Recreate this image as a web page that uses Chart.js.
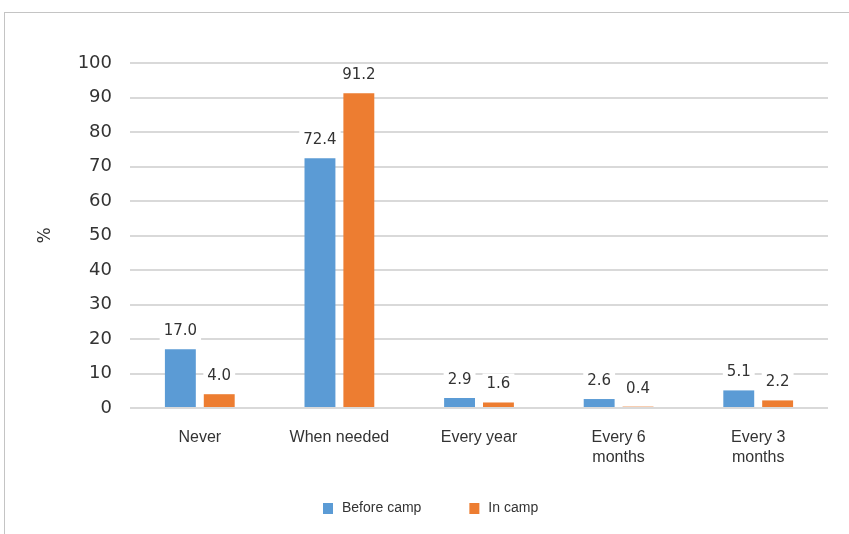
<!DOCTYPE html>
<html lang="en">
<head>
    <meta charset="UTF-8">
    <title>Check-up frequency</title>
    <script src="https://cdn.jsdelivr.net/npm/chart.js"></script>
    <style>
        body {
            margin: 0;
            background: #fff;
            overflow: hidden;
        }
        #frame {
            position: absolute;
            left: 4px;
            top: 12px;
            width: 845px;
            height: 522px;
            border-left: 1px solid #c4c4c4;
            border-top: 1px solid #c4c4c4;
        }
    </style>
</head>
<body>

    <div id="frame">
        <canvas id="barChart" width="844" height="521"></canvas>
    </div>

    <script>
        // Données
        const categories = ['Never', 'When needed', 'Every year', ['Every 6', 'months'], ['Every 3', 'months']];
        const beforeCamp = [17.0, 72.4, 2.9, 2.6, 5.1];
        const inCamp = [4.0, 91.2, 1.6, 0.4, 2.2];
        const seriesNames = ['Before camp', 'In camp'];
        const seriesColors = ['#5B9BD5', '#ED7D31'];
        const yTicks = [0, 10, 20, 30, 40, 50, 60, 70, 80, 90, 100];

        // étiquettes de valeur avec fond blanc
        const valueLabels = {
            id: 'valueLabels',
            afterDatasetsDraw(chart) {
                const ctx = chart.ctx;
                ctx.save();
                ctx.font = '15px "DejaVu Sans"';
                ctx.textAlign = 'center';
                ctx.textBaseline = 'middle';
                chart.data.datasets.forEach((ds, i) => {
                    chart.getDatasetMeta(i).data.forEach((bar, j) => {
                        const txt = ds.data[j].toFixed(1);
                        const w = ctx.measureText(txt).width + 8;
                        const cy = bar.y - 18;
                        ctx.fillStyle = '#fff';
                        ctx.fillRect(bar.x - w / 2, cy - 11, w, 22);
                        ctx.fillStyle = '#333';
                        ctx.fillText(txt, bar.x, cy);
                    });
                });
                ctx.restore();
            }
        };

        // légende dessinée à la main (espacement large)
        const bottomLegend = {
            id: 'bottomLegend',
            afterDraw(chart) {
                const ctx = chart.ctx;
                ctx.save();
                ctx.font = '14px "Liberation Sans"';
                ctx.textBaseline = 'middle';
                const cy = 495;
                let x = 318;
                seriesNames.forEach((name, i) => {
                    ctx.fillStyle = seriesColors[i];
                    ctx.fillRect(x, cy - 5, 10, 11);
                    ctx.fillStyle = '#333';
                    ctx.fillText(name, x + 19, cy);
                    x += 19 + ctx.measureText(name).width + 48;
                });
                ctx.restore();
            }
        };

        const ctxBar = document.getElementById('barChart').getContext('2d');
        new Chart(ctxBar, {
            type: 'bar',
            data: {
                labels: categories,
                datasets: [
                    {
                        label: seriesNames[0],
                        data: beforeCamp,
                        backgroundColor: seriesColors[0],
                        categoryPercentage: 0.557,
                        barPercentage: 0.795
                    },
                    {
                        label: seriesNames[1],
                        data: inCamp,
                        backgroundColor: seriesColors[1],
                        categoryPercentage: 0.557,
                        barPercentage: 0.795
                    }
                ]
            },
            options: {
                responsive: false,
                animation: false,
                layout: {
                    padding: { left: 28, right: 21, top: 50, bottom: 0 }
                },
                plugins: {
                    legend: { display: false },
                    tooltip: { enabled: false }
                },
                scales: {
                    x: {
                        grid: { display: false, drawTicks: false },
                        border: { display: false },
                        ticks: {
                            padding: 20,
                            color: '#333',
                            font: { family: 'Liberation Sans', size: 16, lineHeight: 1.25 },
                            maxRotation: 0
                        },
                        afterFit(scale) { scale.height = 126; }
                    },
                    y: {
                        min: 0,
                        max: 100,
                        afterBuildTicks(scale) {
                            scale.ticks = yTicks.map(v => ({ value: v }));
                        },
                        grid: { color: '#d9d9d9', lineWidth: 2, drawTicks: false },
                        border: { display: false },
                        ticks: {
                            padding: 18,
                            color: '#333',
                            font: { family: 'DejaVu Sans', size: 18 }
                        },
                        title: {
                            display: true,
                            text: '%',
                            color: '#333',
                            font: { family: 'DejaVu Sans', size: 17 },
                            padding: { top: 2, bottom: 0 }
                        },
                        afterFit(scale) { scale.width = 97; }
                    }
                }
            },
            plugins: [valueLabels, bottomLegend]
        });
    </script>

</body>
</html>
